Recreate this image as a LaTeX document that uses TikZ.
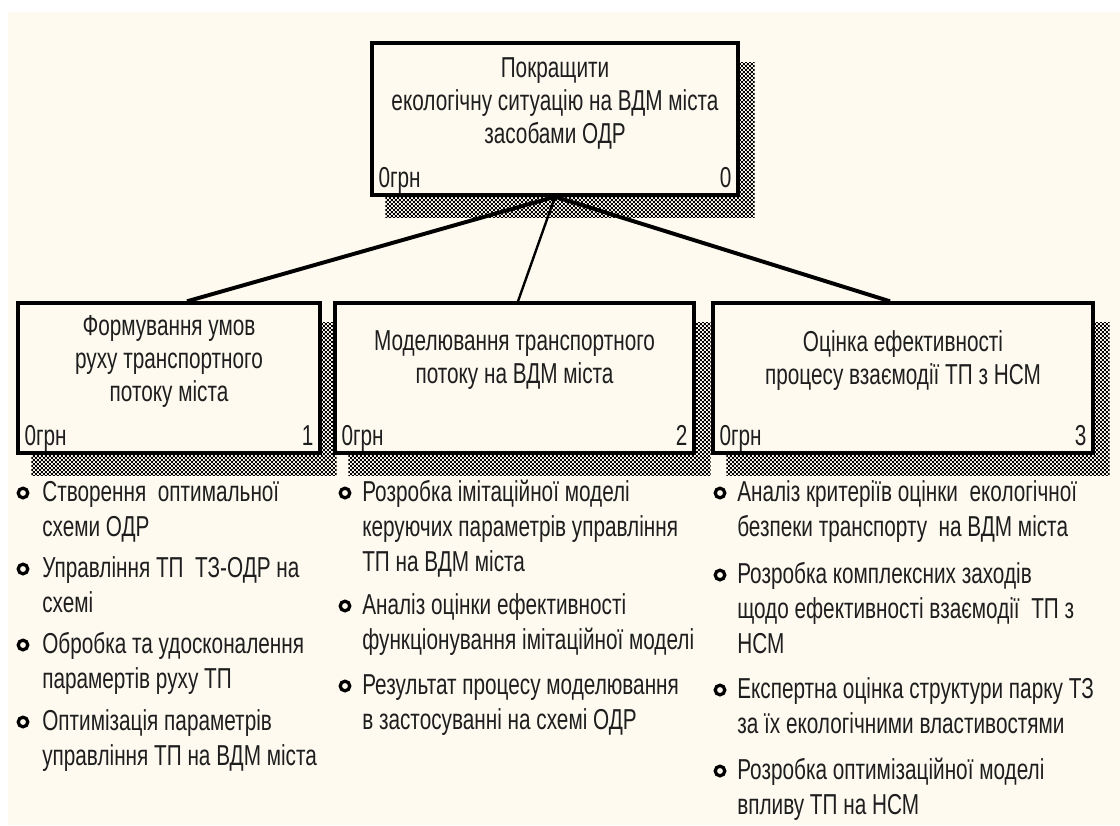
\documentclass[tikz,border=0pt]{standalone}
\usepackage{fontspec}
\setmainfont[FakeStretch=0.72]{Liberation Sans}
\usetikzlibrary{calc,patterns,backgrounds}

\definecolor{bgcream}{RGB}{254,250,240}
\definecolor{inkgray}{RGB}{30,30,30}

% fine dotted fill for the box shadows
\pgfdeclarepatternformonly{shadowdots}{\pgfpointorigin}{\pgfpoint{2.8pt}{2.8pt}}{\pgfpoint{2.8pt}{2.8pt}}{
  \pgfpathrectangle{\pgfpointorigin}{\pgfpoint{1.4pt}{1.4pt}}
  \pgfpathrectangle{\pgfpoint{1.4pt}{1.4pt}}{\pgfpoint{1.4pt}{1.4pt}}
  \pgfusepath{fill}
}

\begin{document}
\begin{tikzpicture}[x=0.025cm, y=-0.025cm]
  \tikzset{
    funcbox/.style={draw=black, line width=2.4pt, fill=bgcream, inner sep=0pt},
    boxtitle/.style={align=center, inner sep=0pt, text=inkgray,
      font=\fontsize{20.5}{23.5}\selectfont},
    cost/.style={anchor=base west, inner sep=0pt, text=inkgray,
      font=\fontsize{20.5}{23.5}\selectfont},
    boxnum/.style={anchor=base east, inner sep=0pt, text=inkgray,
      font=\fontsize{20.5}{23.5}\selectfont},
    item/.style={anchor=north west, align=left, inner sep=0pt, text=inkgray,
      font=\fontsize{20.5}{24.9}\selectfont},
    bullet/.style={circle, draw=black, line width=2.3pt, fill=bgcream,
      minimum size=0.24cm, inner sep=0pt},
    link/.style={line width=2.8pt}
  }
  \useasboundingbox (0,0) rectangle (1120,825);

  % function boxes
  \node[funcbox, minimum width=9.15cm, minimum height=3.8cm] (f0) at (555,119) {};
  \node[funcbox, minimum width=7.55cm, minimum height=3.75cm] (f1) at (169,378) {};
  \node[funcbox, minimum width=8.975cm, minimum height=3.75cm] (f2) at (514.5,378) {};
  \node[funcbox, minimum width=9.5cm, minimum height=3.75cm] (f3) at (903,378) {};

  % titles
  \node[boxtitle] (f0t) at ($(f0.north)+(0,62)$) {Покращити\\екологічну ситуацію на ВДМ міста\\засобами ОДР};
  \node[boxtitle] (f1t) at ($(f1.north)+(0,60)$) {Формування умов\\руху транспортного\\потоку міста};
  \node[boxtitle] (f2t) at ($(f2.north)+(0,59)$) {Моделювання транспортного\\потоку на ВДМ міста};
  \node[boxtitle] (f3t) at ($(f3.north)+(0,59)$) {Оцінка ефективності\\процесу взаємодії ТП з НСМ};

  % cost and number
  \foreach \b/\n in {f0/0, f1/1, f2/2, f3/3} {
    \node[cost] (\b c) at ($(\b.south west)+(8,-9)$) {0грн};
    \node[boxnum] (\b n) at ($(\b.south east)+(-8,-9)$) {\n};
  }

  % decomposition links
  \draw[link] (f0.south) -- (187,0 |- f1.north);
  \draw[link, line width=1.7pt] (f0.south) -- (518,0 |- f2.north);
  \draw[link] (f0.south) -- (890,0 |- f3.north);

  % list under box 1
  \node[item] (l11) at (42,476.5) {\strut Створення\ \ оптимальної\\схеми ОДР};
  \node[item] (l12) at (42,552.5) {\strut Управління ТП\ \ ТЗ-ОДР на\\схемі};
  \node[item] (l13) at (42,628.5) {\strut Обробка та удосконалення\\парамертів руху ТП};
  \node[item] (l14) at (42,705.5) {\strut Оптимізація параметрів\\управління ТП на ВДМ міста};
  \node[bullet] (p11) at (23,493) {};
  \node[bullet] (p12) at (23,569) {};
  \node[bullet] (p13) at (23,645) {};
  \node[bullet] (p14) at (23,722) {};

  % list under box 2
  \node[item] (l21) at (362,476.5) {\strut Розробка імітаційної моделі\\керуючих параметрів управління\\ТП на ВДМ міста};
  \node[item] (l22) at (362,589.5) {\strut Аналіз оцінки ефективності\\функціонування імітаційної моделі};
  \node[item] (l23) at (362,669.5) {\strut Результат процесу моделювання\\в застосуванні на схемі ОДР};
  \node[bullet] (p21) at (345,493) {};
  \node[bullet] (p22) at (345,606) {};
  \node[bullet] (p23) at (345,686) {};

  % list under box 3
  \node[item] (l31) at (737,476.5) {\strut Аналіз критеріїв оцінки\ \ екологічної\\безпеки транспорту\ \ на ВДМ міста};
  \node[item] (l32) at (737,558.5) {\strut Розробка комплексних заходів\\щодо ефективності взаємодії\ \ ТП з\\НСМ};
  \node[item] (l33) at (737,673.5) {\strut Експертна оцінка структури парку ТЗ\\за їх екологічними властивостями};
  \node[item] (l34) at (737,754.5) {\strut Розробка оптимізаційної моделі\\впливу ТП на НСМ};
  \node[bullet] (p31) at (720,493) {};
  \node[bullet] (p32) at (720,575) {};
  \node[bullet] (p33) at (720,690) {};
  \node[bullet] (p34) at (720,771) {};

  % page and shadows
  \begin{scope}[on background layer]
    \fill[white] (0,0) rectangle (1120,825);
    \fill[bgcream] (8,12) rectangle (1120,825);
    \foreach \b in {f0,f1,f2,f3}
      \fill[pattern=shadowdots, pattern color=black]
        ($(\b.north west)+(15,21)$) rectangle ($(\b.south east)+(15,21)$);
  \end{scope}
\end{tikzpicture}
\end{document}
